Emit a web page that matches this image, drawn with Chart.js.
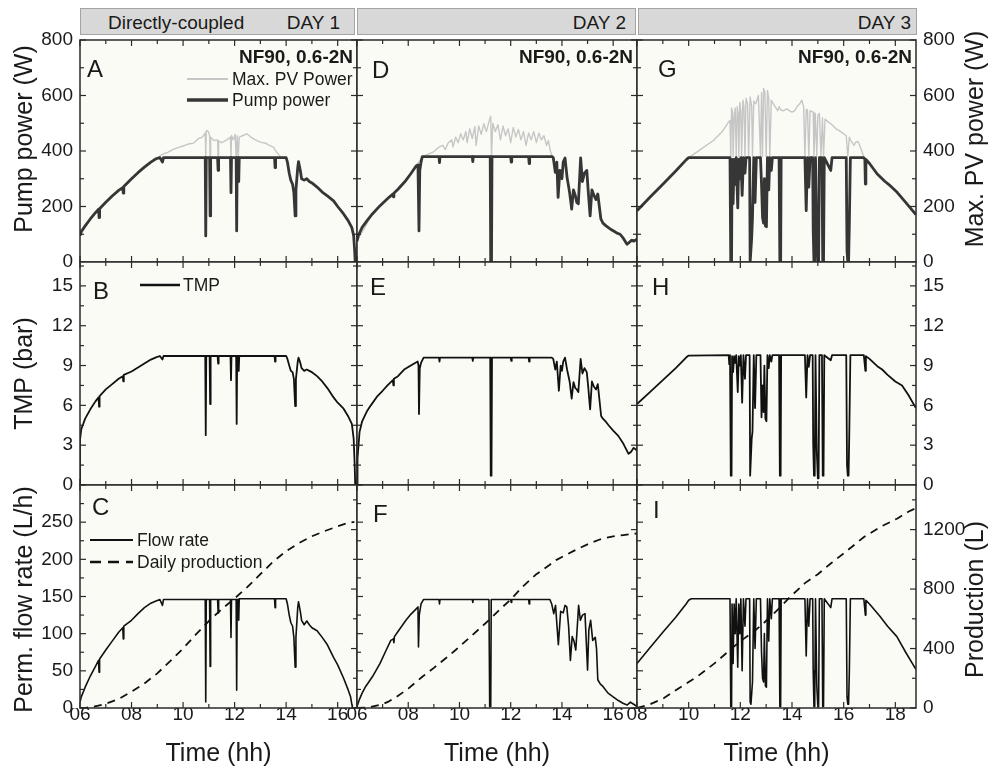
<!DOCTYPE html>
<html lang="en">
<head>
  <meta charset="UTF-8">
  <title>Directly-coupled NF90 - three days</title>
  <script src="https://cdn.jsdelivr.net/npm/chart.js"></script>
  <style>
    body { margin: 0; background: #fff; font-family: "Liberation Sans", Arial, Helvetica, sans-serif; color: #1a1a1a; }
    #page { position: relative; width: 991px; height: 772px; overflow: hidden; }
    #page canvas { position: absolute; }
    .strip { position: absolute; top: 8px; height: 27px; background: #d8d8d8; border: 1px solid #a4a4a4; box-sizing: border-box; font-size: 19px; }
    .strip span { position: absolute; top: 3px; white-space: nowrap; }
  </style>
</head>
<body>
<div id="page">
  <div class="strip" style="left:80px; width:275px;"><span style="left:27px;">Directly-coupled</span><span style="right:14px;">DAY 1</span></div>
  <div class="strip" style="left:357px; width:279px;"><span style="right:9px;">DAY 2</span></div>
  <div class="strip" style="left:638px; width:279px;"><span style="right:5px;">DAY 3</span></div>
</div>

<script>
  // ---- data: [time (h), value] ----
  const pumpDay1 = [[6.0,95],[6.05,110],[6.2,130],[6.4,155],[6.6,178],[6.72,190],[6.74,160],[6.76,192],[7.0,215],[7.25,238],[7.5,258],[7.66,268],[7.68,248],[7.7,272],[8.0,300],[8.25,322],[8.5,342],[8.75,360],[8.95,372],[9.1,376],[9.2,360],[9.24,376],[10.86,376],[10.88,94],[10.9,376],[11.03,376],[11.05,166],[11.07,376],[11.34,376],[11.36,330],[11.38,376],[11.84,376],[11.86,250],[11.88,376],[12.06,376],[12.08,112],[12.1,376],[12.14,376],[12.16,290],[12.18,376],[13.55,376],[13.57,340],[13.59,376],[14.0,376],[14.05,360],[14.12,320],[14.18,295],[14.25,280],[14.3,250],[14.35,166],[14.38,260],[14.45,340],[14.48,362],[14.55,330],[14.6,300],[14.7,295],[14.8,300],[14.9,290],[15.0,285],[15.2,270],[15.4,252],[15.6,238],[15.84,220],[16.0,200],[16.23,173],[16.4,150],[16.55,124],[16.62,95],[16.66,40],[16.68,0],[16.75,0]];
  const pvDay1 = [[6.0,95],[6.4,155],[7.0,215],[7.5,258],[8.0,300],[8.5,342],[8.95,372],[9.2,388],[9.4,395],[9.6,405],[9.8,412],[10.0,418],[10.2,425],[10.4,428],[10.6,445],[10.75,450],[10.86,465],[10.88,376],[10.9,474],[10.98,470],[11.03,455],[11.05,376],[11.07,450],[11.2,438],[11.34,440],[11.36,376],[11.38,436],[11.5,430],[11.7,440],[11.84,450],[11.86,376],[11.88,456],[11.95,440],[12.02,460],[12.06,376],[12.1,455],[12.14,376],[12.18,450],[12.3,455],[12.47,462],[12.6,452],[12.8,440],[13.0,432],[13.2,428],[13.35,420],[13.51,414],[13.6,400],[13.7,388],[13.8,378],[14.0,376]];
  const tmpDay1 = [[6.0,0],[6.0,3.4],[6.05,4.2],[6.2,5.0],[6.4,5.7],[6.6,6.3],[6.72,6.6],[6.74,5.9],[6.76,6.7],[7.0,7.2],[7.25,7.6],[7.5,8.0],[7.66,8.2],[7.68,7.8],[7.7,8.3],[8.0,8.55],[8.25,8.85],[8.5,9.15],[8.75,9.45],[8.95,9.62],[9.1,9.72],[9.2,9.45],[9.24,9.72],[10.86,9.72],[10.88,3.75],[10.9,9.72],[11.03,9.72],[11.05,6.1],[11.07,9.72],[11.34,9.72],[11.36,9.15],[11.38,9.72],[11.84,9.72],[11.86,7.9],[11.88,9.72],[12.06,9.72],[12.08,4.6],[12.1,9.72],[12.14,9.72],[12.16,8.6],[12.18,9.72],[13.55,9.72],[13.57,9.3],[13.59,9.72],[14.0,9.72],[14.05,9.5],[14.12,9.0],[14.18,8.6],[14.25,8.5],[14.3,8.0],[14.35,5.95],[14.38,8.0],[14.45,9.3],[14.48,9.6],[14.55,9.2],[14.6,8.8],[14.7,8.6],[14.8,8.7],[14.9,8.6],[15.0,8.5],[15.2,8.2],[15.4,7.8],[15.6,7.3],[15.84,6.6],[16.0,6.2],[16.23,5.75],[16.4,5.2],[16.55,4.6],[16.62,3.5],[16.66,1.5],[16.68,0],[16.75,0]];
  const flowDay1 = [[6.0,8],[6.05,15],[6.2,28],[6.4,43],[6.6,56],[6.72,64],[6.74,48],[6.76,66],[7.0,78],[7.25,90],[7.5,102],[7.66,108],[7.68,93],[7.7,110],[8.0,118],[8.25,127],[8.5,135],[8.75,141],[8.95,144],[9.1,146],[9.2,138],[9.24,146],[10.86,146],[10.88,8],[10.9,146],[11.03,146],[11.05,56],[11.07,146],[11.34,146],[11.36,128],[11.38,146],[11.84,146],[11.86,95],[11.88,146],[12.06,146],[12.08,24],[12.1,146],[12.14,146],[12.16,118],[12.18,147],[13.55,147],[13.57,135],[13.59,147],[14.0,147],[14.05,140],[14.12,125],[14.18,115],[14.25,110],[14.3,95],[14.35,55],[14.38,95],[14.45,135],[14.48,143],[14.55,130],[14.6,118],[14.7,112],[14.8,117],[14.9,112],[15.0,108],[15.2,104],[15.4,95],[15.6,85],[15.84,68],[16.0,58],[16.23,40],[16.4,25],[16.5,15],[16.55,5],[16.58,0],[16.75,0]];
  const prodDay1 = [[6.0,0],[6.25,2],[6.5,8],[7.0,28],[7.5,60],[8.0,110],[8.5,165],[9.0,233],[9.5,315],[10.0,400],[10.5,495],[11.0,585],[11.5,665],[12.0,737],[12.5,815],[13.0,900],[13.5,985],[14.0,1055],[14.5,1110],[15.0,1155],[15.5,1190],[16.0,1222],[16.4,1245],[16.65,1252]];

  const pumpDay2 = [[6.0,75],[6.05,95],[6.2,125],[6.4,150],[6.6,173],[6.9,203],[7.25,233],[7.4,245],[7.42,235],[7.44,248],[7.6,262],[7.9,293],[8.1,318],[8.3,345],[8.38,350],[8.42,112],[8.45,330],[8.5,360],[8.55,380],[9.2,380],[9.22,358],[9.24,380],[10.5,380],[10.52,362],[10.54,380],[11.2,380],[11.22,0],[11.25,0],[11.27,380],[12.0,380],[12.02,360],[12.04,380],[12.7,380],[12.72,355],[12.74,380],[13.6,380],[13.66,377],[13.74,323],[13.8,360],[13.85,233],[13.92,330],[14.0,300],[14.05,360],[14.12,375],[14.2,305],[14.3,250],[14.38,191],[14.45,260],[14.52,240],[14.58,215],[14.64,210],[14.73,375],[14.8,290],[14.88,320],[14.97,330],[15.03,250],[15.1,166],[15.17,260],[15.25,240],[15.33,225],[15.4,245],[15.46,200],[15.52,155],[15.6,140],[15.7,132],[15.8,125],[15.9,118],[16.05,110],[16.15,104],[16.27,100],[16.4,85],[16.54,64],[16.62,70],[16.73,79],[16.8,75],[16.93,82]];
  const pvDay2 = [[6.0,75],[6.6,173],[7.25,233],[7.9,293],[8.3,345],[8.55,378],[8.7,385],[9.0,398],[9.2,414],[9.35,420],[9.45,405],[9.55,428],[9.7,440],[9.75,415],[9.85,450],[9.95,430],[10.05,462],[10.15,440],[10.25,470],[10.3,430],[10.4,480],[10.5,445],[10.6,488],[10.65,420],[10.75,490],[10.85,460],[10.95,498],[11.05,470],[11.15,505],[11.22,525],[11.25,380],[11.3,500],[11.4,470],[11.5,495],[11.6,440],[11.7,490],[11.8,455],[11.9,480],[12.0,430],[12.1,485],[12.2,450],[12.3,478],[12.4,440],[12.5,470],[12.6,420],[12.7,465],[12.8,440],[12.9,470],[13.0,430],[13.1,465],[13.2,440],[13.3,455],[13.4,420],[13.47,438],[13.55,400],[13.62,380]];
  const tmpDay2 = [[6.0,0],[6.02,2.0],[6.1,4.0],[6.2,4.8],[6.4,5.6],[6.54,6.0],[6.8,6.7],[7.0,7.1],[7.19,7.5],[7.4,7.9],[7.42,7.5],[7.44,8.0],[7.6,8.2],[7.84,8.7],[8.1,9.0],[8.37,9.3],[8.4,9.0],[8.42,5.35],[8.45,8.8],[8.5,9.2],[8.6,9.6],[9.2,9.6],[9.22,9.3],[9.24,9.6],[10.5,9.6],[10.52,9.35],[10.54,9.6],[11.2,9.6],[11.22,0.7],[11.25,0.7],[11.27,9.6],[12.0,9.6],[12.02,9.35],[12.04,9.6],[12.7,9.6],[12.72,9.3],[12.74,9.6],[13.6,9.6],[13.66,9.5],[13.74,8.7],[13.8,9.3],[13.88,7.1],[13.95,9.0],[14.0,8.6],[14.05,9.3],[14.12,9.6],[14.2,8.7],[14.3,7.8],[14.38,6.5],[14.45,7.75],[14.52,7.3],[14.58,7.2],[14.64,7.0],[14.73,9.5],[14.8,8.4],[14.88,8.8],[14.97,8.5],[15.03,7.3],[15.1,5.7],[15.17,7.8],[15.25,7.4],[15.33,7.2],[15.4,7.6],[15.46,6.5],[15.53,5.2],[15.6,5.0],[15.7,4.8],[15.82,4.5],[16.0,4.1],[16.2,3.7],[16.4,3.1],[16.6,2.35],[16.7,2.5],[16.8,2.8],[16.93,2.6]];
  const flowDay2 = [[6.0,2],[6.1,12],[6.2,20],[6.34,29],[6.6,42],[6.9,60],[7.1,75],[7.32,91],[7.42,93],[7.44,88],[7.46,96],[7.6,103],[7.91,118],[8.1,126],[8.33,134],[8.38,136],[8.4,82],[8.43,125],[8.5,140],[8.6,146],[9.2,146],[9.22,140],[9.24,146],[10.5,146],[10.52,142],[10.54,146],[11.15,146],[11.18,2],[11.22,2],[11.24,146],[12.0,146],[12.02,142],[12.04,146],[12.7,146],[12.72,140],[12.74,146],[13.53,146],[13.6,140],[13.68,127],[13.75,138],[13.86,85],[13.95,130],[14.05,128],[14.12,138],[14.19,136],[14.26,110],[14.33,64],[14.4,96],[14.47,90],[14.54,78],[14.6,110],[14.65,138],[14.72,118],[14.8,125],[14.9,127],[15.0,51],[15.05,105],[15.12,118],[15.2,91],[15.3,95],[15.35,80],[15.4,38],[15.5,32],[15.6,29],[15.8,20],[16.0,15],[16.2,10],[16.4,6],[16.55,4],[16.67,8],[16.8,5],[16.93,2]];
  const prodDay2 = [[6.0,0],[6.5,5],[7.0,25],[7.25,45],[7.5,70],[8.0,130],[8.55,210],[9.0,270],[9.5,340],[9.85,390],[10.5,490],[11.15,591],[11.5,650],[12.0,730],[12.46,815],[13.0,900],[13.5,960],[13.77,995],[14.5,1060],[15.07,1107],[15.5,1135],[16.0,1155],[16.4,1163],[16.93,1174]];

  const pumpDay3 = [[8.0,185],[8.5,233],[9.0,280],[9.5,328],[9.9,368],[10.0,376],[11.6,376],[11.63,0],[11.66,0],[11.68,370],[11.72,210],[11.76,370],[11.8,280],[11.84,376],[11.9,195],[11.94,370],[11.98,300],[12.02,376],[12.07,240],[12.12,376],[12.18,320],[12.22,376],[12.36,376],[12.38,0],[12.41,0],[12.44,88],[12.47,160],[12.52,376],[12.57,215],[12.62,376],[12.78,376],[12.82,280],[12.86,160],[12.9,140],[12.93,300],[12.97,130],[13.01,127],[13.05,376],[13.1,260],[13.14,376],[13.2,330],[13.24,376],[13.5,376],[13.53,0],[13.56,0],[13.58,376],[14.5,376],[14.55,185],[14.6,376],[14.65,270],[14.7,376],[14.8,376],[14.82,120],[14.85,0],[14.88,0],[14.91,376],[14.96,76],[15.0,0],[15.03,0],[15.06,376],[15.16,376],[15.19,0],[15.22,0],[15.25,376],[15.5,330],[15.55,376],[16.1,376],[16.13,40],[16.16,0],[16.19,0],[16.22,140],[16.26,376],[16.78,376],[16.82,370],[16.84,281],[16.86,370],[17.0,355],[17.3,317],[17.6,290],[17.8,275],[18.07,251],[18.4,215],[18.78,173],[18.8,171]];
  const pvDay3 = [[8.0,185],[9.0,280],[10.0,376],[10.3,395],[10.6,415],[10.96,438],[11.3,470],[11.55,505],[11.6,510],[11.63,380],[11.66,555],[11.7,540],[11.72,380],[11.76,520],[11.8,555],[11.84,380],[11.88,560],[11.92,530],[11.94,380],[11.98,575],[12.02,545],[12.05,380],[12.1,583],[12.14,560],[12.18,380],[12.22,590],[12.28,570],[12.32,380],[12.38,595],[12.44,560],[12.47,380],[12.52,580],[12.6,570],[12.7,600],[12.78,380],[12.82,610],[12.86,380],[12.9,625],[12.95,610],[13.0,380],[13.05,618],[13.1,590],[13.14,380],[13.2,583],[13.28,570],[13.35,560],[13.45,545],[13.5,560],[13.56,548],[13.65,545],[13.8,552],[13.9,545],[14.0,540],[14.1,545],[14.2,560],[14.3,570],[14.38,583],[14.45,560],[14.5,380],[14.55,550],[14.6,548],[14.65,380],[14.7,545],[14.82,540],[14.85,380],[14.9,535],[14.96,380],[15.0,530],[15.06,535],[15.12,380],[15.18,520],[15.22,380],[15.28,515],[15.4,505],[15.5,498],[15.6,490],[15.7,480],[15.8,475],[15.88,470],[16.0,462],[16.1,455],[16.16,380],[16.22,450],[16.27,438],[16.4,420],[16.45,430],[16.55,435],[16.62,420],[16.7,400],[16.77,380]];
  const tmpDay3 = [[8.0,6.1],[8.5,7.0],[9.0,7.9],[9.5,8.8],[9.9,9.6],[10.0,9.75],[11.55,9.78],[11.57,9.1],[11.6,9.78],[11.63,0.7],[11.66,0.7],[11.68,9.7],[11.72,8.5],[11.76,9.7],[11.8,9.2],[11.84,9.78],[11.9,7.0],[11.94,9.7],[11.98,9.0],[12.02,9.78],[12.07,6.2],[12.12,9.78],[12.18,8.0],[12.22,9.78],[12.36,9.78],[12.38,0.7],[12.41,0.7],[12.44,3.5],[12.47,4.0],[12.52,9.78],[12.57,5.8],[12.62,9.78],[12.78,9.78],[12.82,5.1],[12.86,7.5],[12.9,5.5],[12.93,9.0],[12.97,5.0],[13.01,4.8],[13.05,9.78],[13.1,8.8],[13.14,9.78],[13.2,9.3],[13.24,9.78],[13.5,9.78],[13.53,0.7],[13.56,0.7],[13.58,9.78],[14.5,9.78],[14.55,6.6],[14.6,9.78],[14.65,8.9],[14.7,9.78],[14.8,9.78],[14.82,3.1],[14.85,0.7],[14.88,0.7],[14.91,9.78],[14.96,2.5],[15.0,0.5],[15.03,0.5],[15.06,9.78],[15.16,9.78],[15.19,0.7],[15.22,0.7],[15.25,9.78],[15.5,9.4],[15.55,9.78],[16.1,9.78],[16.13,1.5],[16.16,0.7],[16.19,0.7],[16.22,4.2],[16.26,9.78],[16.78,9.78],[16.84,8.6],[16.86,9.7],[17.0,9.5],[17.3,8.95],[17.49,8.7],[17.7,8.3],[18.0,7.8],[18.26,7.5],[18.5,6.8],[18.78,5.85],[18.8,5.8]];
  const flowDay3 = [[8.0,60],[8.5,81],[9.0,102],[9.5,122],[9.9,140],[10.0,145],[10.1,147],[11.6,147],[11.63,2],[11.66,2],[11.68,140],[11.72,60],[11.76,140],[11.8,100],[11.84,147],[11.9,55],[11.94,140],[11.98,100],[12.02,147],[12.07,50],[12.12,147],[12.18,110],[12.22,147],[12.36,147],[12.38,8],[12.41,5],[12.44,20],[12.47,35],[12.52,147],[12.57,80],[12.62,147],[12.78,147],[12.82,75],[12.86,40],[12.9,35],[12.93,100],[12.97,30],[13.01,28],[13.05,147],[13.1,90],[13.14,147],[13.2,120],[13.24,147],[13.5,147],[13.53,2],[13.56,2],[13.58,147],[14.5,147],[14.55,70],[14.6,147],[14.65,110],[14.7,147],[14.8,147],[14.82,50],[14.85,2],[14.88,2],[14.91,147],[14.96,30],[15.0,2],[15.03,2],[15.06,147],[15.16,147],[15.19,2],[15.22,2],[15.25,147],[15.5,135],[15.55,147],[16.1,147],[16.13,15],[16.16,5],[16.19,5],[16.22,50],[16.26,147],[16.78,147],[16.84,125],[16.86,145],[17.0,140],[17.41,123],[17.7,110],[18.06,96],[18.4,75],[18.78,53],[18.8,52]];
  const prodDay3 = [[8.0,0],[8.5,25],[9.03,65],[9.5,120],[10.0,175],[10.32,210],[11.0,300],[11.6,390],[12.0,450],[12.5,510],[12.9,570],[13.5,670],[13.93,748],[14.5,840],[15.0,900],[15.5,972],[16.0,1040],[16.5,1110],[16.8,1152],[17.5,1225],[18.08,1275],[18.5,1320],[18.8,1345]];

  const pumpSeries = [pumpDay1, pumpDay2, pumpDay3];
  const pvSeries = [pvDay1, pvDay2, pvDay3];
  const tmpSeries = [tmpDay1, tmpDay2, tmpDay3];
  const flowSeries = [flowDay1, flowDay2, flowDay3];
  const prodSeries = [prodDay1, prodDay2, prodDay3];

  // axes
  const xRange = [[6, 16.75], [6, 16.93], [8, 18.8]];
  const yRange = [[0, 800], [0, 16.8], [0, 300]];
  const yStep = [100, 1.5, 25];
  const yLabelStep = [200, 3, 50];
  const yLabelMax = [800, 15, 250];
  const prodRange = [0, 1500];
  const prodStep = 200, prodLabelStep = 400, prodLabelMax = 1200;

  const leftTitles = ['Pump power (W)', 'TMP (bar)', 'Perm. flow rate (L/h)'];
  const rightTitles = ['Max. PV power (W)', '', 'Production (L)'];
  const titleShift = [-12, 0, 3];
  const letters = [['A', 'D', 'G'], ['B', 'E', 'H'], ['C', 'F', 'I']];
  const letterPos = [[[7, 37], [15, 38], [21, 37]], [[13, 37], [13, 33], [15, 33]], [[12, 30], [16, 37], [16, 33]]];
  const tagText = 'NF90, 0.6-2N';

  // panel geometry (px)
  const colLeft = [80, 357, 637], colRight = [357, 637, 916];
  const rowTop = [40, 262, 485], rowBottom = [262, 485, 708];
  const AXIS_L = 80, AXIS_R = 75, AXIS_B = 64, PAD = 14;

  const FONT = '"Liberation Sans", Arial, Helvetica, sans-serif';
  Chart.defaults.font.family = FONT;
  Chart.defaults.color = '#1a1a1a';

  function isMult(v, s) {
    const k = v / s;
    return Math.abs(k - Math.round(k)) < 1e-6;
  }

  // legends in the first column: which dataset, label, line y (from panel top)
  const legendDefs = {
    '0': { x1: 107, x2: 148, tx: 152, items: [{ ds: 1, label: 'Max. PV Power', y: 39 }, { ds: 0, label: 'Pump power', y: 60 }] },
    '1': { x1: 60, x2: 100, tx: 103, items: [{ ds: 0, label: 'TMP', y: 23 }] },
    '2': { x1: 10, x2: 53, tx: 57, items: [{ ds: 0, label: 'Flow rate', y: 55 }, { ds: 1, label: 'Daily production', y: 77 }] }
  };

  const panelDeco = {
    id: 'panelDeco',
    beforeDatasetsDraw(chart) {
      const { ctx, chartArea: a } = chart;
      ctx.save();
      ctx.fillStyle = '#fbfbf6';
      ctx.fillRect(a.left, a.top, a.right - a.left, a.bottom - a.top);
      ctx.restore();
    },
    afterDraw(chart, args, o) {
      const { ctx, chartArea: a, scales } = chart;
      const r = o.row, c = o.col;
      const line = (x1, y1, x2, y2) => { ctx.beginPath(); ctx.moveTo(x1, y1); ctx.lineTo(x2, y2); ctx.stroke(); };
      ctx.save();
      // frame
      ctx.strokeStyle = '#2a2a2a';
      ctx.lineWidth = 1.5;
      ctx.strokeRect(a.left, a.top, a.right - a.left, a.bottom - a.top);
      // inward ticks on all four sides
      ctx.lineWidth = 1.2;
      scales.x.ticks.forEach(t => {
        const px = scales.x.getPixelForValue(t.value);
        const len = isMult(t.value, 2) ? 6 : 4;
        line(px, a.bottom, px, a.bottom - len);
        line(px, a.top, px, a.top + len);
      });
      scales.y.ticks.forEach(t => {
        const py = scales.y.getPixelForValue(t.value);
        const len = isMult(t.value, yLabelStep[r]) ? 6 : 4;
        line(a.left, py, a.left + len, py);
      });
      scales.yR.ticks.forEach(t => {
        const py = scales.yR.getPixelForValue(t.value);
        const len = isMult(t.value, r === 2 ? prodLabelStep : yLabelStep[r]) ? 6 : 4;
        line(a.right, py, a.right - len, py);
      });

      ctx.fillStyle = '#1a1a1a';
      ctx.textBaseline = 'alphabetic';
      // panel letter
      ctx.font = '24px ' + FONT;
      ctx.textAlign = 'left';
      ctx.fillText(letters[r][c], a.left + letterPos[r][c][0], a.top + letterPos[r][c][1]);
      // membrane tag
      if (r === 0) {
        ctx.font = 'bold 19px ' + FONT;
        ctx.textAlign = 'right';
        ctx.fillText(tagText, a.right - 4, a.top + 23);
      }
      // legend
      const lg = c === 0 ? legendDefs[String(r)] : null;
      if (lg) {
        ctx.font = '17.5px ' + FONT;
        ctx.textAlign = 'left';
        ctx.textBaseline = 'middle';
        lg.items.forEach(it => {
          const ds = chart.data.datasets[it.ds];
          ctx.save();
          ctx.strokeStyle = ds.borderColor;
          ctx.lineWidth = ds.borderWidth + 0.6;
          ctx.setLineDash(ds.borderDash ? [11, 7] : []);
          line(a.left + lg.x1, a.top + it.y, a.left + lg.x2, a.top + it.y);
          ctx.restore();
          ctx.fillText(it.label, a.left + lg.tx, a.top + it.y + 1);
        });
      }
      // axis titles, reading bottom to top
      ctx.font = '25px ' + FONT;
      ctx.textAlign = 'center';
      ctx.textBaseline = 'middle';
      const cy = (a.top + a.bottom) / 2 + titleShift[r];
      if (c === 0) {
        ctx.save(); ctx.translate(a.left - 55, cy); ctx.rotate(-Math.PI / 2);
        ctx.fillText(leftTitles[r], 0, 0); ctx.restore();
      }
      if (c === 2 && rightTitles[r]) {
        ctx.save(); ctx.translate(a.right + 60, cy); ctx.rotate(-Math.PI / 2);
        ctx.fillText(rightTitles[r], 0, 0); ctx.restore();
      }
      ctx.restore();
    }
  };

  const page = document.getElementById('page');

  function datasetsFor(r, c) {
    if (r === 0) return [
      { label: 'Pump power', data: pumpSeries[c], borderColor: '#363636', borderWidth: 2.8 },
      { label: 'Max. PV Power', data: pvSeries[c], borderColor: '#c6c6c6', borderWidth: 1.4 }
    ];
    if (r === 1) return [
      { label: 'TMP', data: tmpSeries[c], borderColor: '#111', borderWidth: 1.8 }
    ];
    return [
      { label: 'Flow rate', data: flowSeries[c], borderColor: '#111', borderWidth: 1.6 },
      { label: 'Daily production', data: prodSeries[c], yAxisID: 'yR', borderColor: '#111', borderWidth: 1.8, borderDash: [8, 6] }
    ];
  }

  for (let r = 0; r < 3; r++) {
    for (let c = 0; c < 3; c++) {
      const padL = c === 0 ? AXIS_L : PAD, padR = c === 2 ? AXIS_R : PAD;
      const padT = PAD, padB = r === 2 ? AXIS_B : PAD;
      const w = colRight[c] - colLeft[c] + padL + padR;
      const h = rowBottom[r] - rowTop[r] + padT + padB;
      const cv = document.createElement('canvas');
      cv.width = w; cv.height = h;
      cv.style.left = (colLeft[c] - padL) + 'px';
      cv.style.top = (rowTop[r] - padT) + 'px';
      cv.style.width = w + 'px'; cv.style.height = h + 'px';
      page.appendChild(cv);

      const rightIsProd = r === 2;
      new Chart(cv, {
        type: 'line',
        data: { datasets: datasetsFor(r, c) },
        options: {
          responsive: false,
          animation: false,
          events: [],
          layout: { padding: { left: c === 0 ? 0 : PAD, right: c === 2 ? 0 : PAD, top: PAD, bottom: r === 2 ? 0 : PAD } },
          elements: { point: { radius: 0 }, line: { tension: 0, borderJoinStyle: 'round' } },
          plugins: { legend: { display: false }, tooltip: { enabled: false }, panelDeco: { row: r, col: c } },
          scales: {
            x: {
              type: 'linear', min: xRange[c][0], max: xRange[c][1], display: r === 2,
              afterBuildTicks: s => { s.ticks = s.ticks.filter(t => isMult(t.value, 1)); },
              afterFit: s => { if (r === 2) s.height = AXIS_B; s.paddingLeft = 0; s.paddingRight = 0; },
              ticks: {
                stepSize: 1, maxTicksLimit: 100, autoSkip: false, includeBounds: false, maxRotation: 0, padding: -3,
                font: { size: 19, lineHeight: 1 },
                callback: v => isMult(v, 2) ? String(Math.round(v)).padStart(2, '0') : ''
              },
              grid: { display: false, drawTicks: false },
              border: { display: false },
              title: { display: true, text: 'Time (hh)', font: { size: 25 }, padding: { top: 0, bottom: 3 } }
            },
            y: {
              position: 'left', min: yRange[r][0], max: yRange[r][1], display: c === 0,
              afterBuildTicks: s => { s.ticks = s.ticks.filter(t => isMult(t.value, yStep[r])); },
              afterFit: s => { if (c === 0) s.width = AXIS_L; s.paddingTop = 0; s.paddingBottom = 0; },
              ticks: {
                stepSize: yStep[r], maxTicksLimit: 100, autoSkip: false, includeBounds: false, padding: 7,
                font: { size: 19 },
                callback: v => (isMult(v, yLabelStep[r]) && v <= yLabelMax[r] + 1e-9) ? String(v) : ''
              },
              grid: { display: false, drawTicks: false },
              border: { display: false }
            },
            yR: {
              position: 'right',
              min: rightIsProd ? prodRange[0] : yRange[r][0],
              max: rightIsProd ? prodRange[1] : yRange[r][1],
              display: c === 2,
              afterBuildTicks: s => { s.ticks = s.ticks.filter(t => isMult(t.value, rightIsProd ? prodStep : yStep[r])); },
              afterFit: s => { if (c === 2) s.width = AXIS_R; s.paddingTop = 0; s.paddingBottom = 0; },
              ticks: {
                stepSize: rightIsProd ? prodStep : yStep[r], maxTicksLimit: 100, autoSkip: false, includeBounds: false, padding: 7,
                font: { size: 19 },
                callback: v => rightIsProd
                  ? ((isMult(v, prodLabelStep) && v <= prodLabelMax) ? String(v) : '')
                  : ((isMult(v, yLabelStep[r]) && v <= yLabelMax[r] + 1e-9) ? String(v) : '')
              },
              grid: { display: false, drawTicks: false },
              border: { display: false }
            }
          }
        },
        plugins: [panelDeco]
      });
    }
  }
</script>
</body>
</html>
